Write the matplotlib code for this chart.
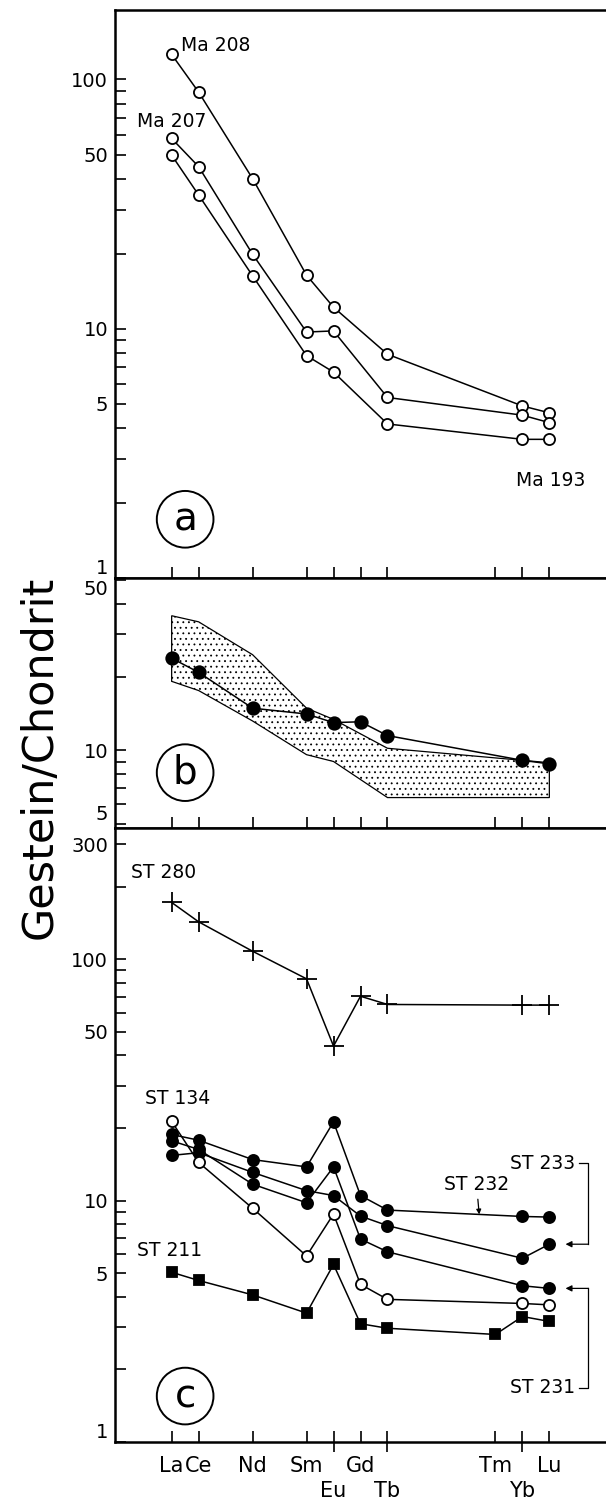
import numpy as np
import matplotlib
matplotlib.use('Agg')
import matplotlib.pyplot as plt
import matplotlib.ticker as mticker

# REE in order of atomic number (x axis is spaced by atomic number)
elements = ['La', 'Ce', 'Nd', 'Sm', 'Eu', 'Gd', 'Tb', 'Tm', 'Yb', 'Lu']
atomic_numbers = [57, 58, 60, 62, 63, 64, 65, 69, 70, 71]
lower_row = ['Eu', 'Tb', 'Yb']   # labels printed on the second line

# Panel a: Ma samples (no Gd, no Tm)
a_elements = ['La', 'Ce', 'Nd', 'Sm', 'Eu', 'Tb', 'Yb', 'Lu']
ma208 = [126, 89, 40, 16.4, 12.2, 7.9, 4.9, 4.6]
ma207 = [58, 44.7, 19.9, 9.7, 9.8, 5.3, 4.5, 4.2]
ma193 = [49.7, 34.4, 16.3, 7.8, 6.7, 4.15, 3.6, 3.6]

# Panel b: mean curve and range band
b_elements = ['La', 'Ce', 'Nd', 'Sm', 'Eu', 'Gd', 'Tb', 'Yb', 'Lu']
b_mean = [23.9, 20.9, 14.9, 14.1, 13.0, 13.1, 11.5, 9.1, 8.8]
band_elements = ['La', 'Ce', 'Nd', 'Sm', 'Eu', 'Tb', 'Yb', 'Lu']
band_upper = [35.7, 33.7, 24.7, 14.9, 13.4, 10.2, 9.1, 8.9]
band_lower = [19.2, 17.6, 13.2, 9.6, 9.0, 6.4, 6.4, 6.4]

# Panel c: ST samples
c_elements = ['La', 'Ce', 'Nd', 'Sm', 'Eu', 'Gd', 'Tb', 'Yb', 'Lu']
st280 = [172, 143, 108, 83, 43.7, 70.3, 65, 64.6, 64.6]
st134 = [21.3, 14.4, 9.3, 5.9, 8.8, 4.5, 3.9, 3.75, 3.7]
st232 = [18.8, 17.8, 14.8, 13.8, 21.2, 10.5, 9.14, 8.6, 8.55]
st233 = [15.4, 15.8, 13.1, 11.0, 10.5, 8.63, 7.88, 5.77, 6.6]
st231 = [17.7, 16.3, 11.7, 9.8, 13.8, 6.93, 6.14, 4.44, 4.33]
st211_elements = elements
st211 = [5.05, 4.67, 4.07, 3.42, 5.44, 3.09, 2.96, 2.79, 3.31, 3.16]


def z(names):
    """Atomic-number positions for a list of element names."""
    return [atomic_numbers[elements.index(n)] for n in names]


def style_panel(ax, ylim, major):
    ax.set_yscale('log')
    ax.set_xlim(54.9, 73.1)
    ax.set_ylim(*ylim)
    ax.spines['right'].set_visible(False)
    for side in ['left', 'top', 'bottom']:
        ax.spines[side].set_linewidth(1.8)
    ax.yaxis.set_major_locator(mticker.FixedLocator(major))
    ax.yaxis.set_major_formatter(mticker.FuncFormatter(lambda v, _: f'{v:g}'))
    ax.yaxis.set_minor_locator(mticker.LogLocator(base=10, subs=np.arange(2, 10), numticks=30))
    ax.yaxis.set_minor_formatter(mticker.NullFormatter())
    ax.tick_params(axis='y', which='both', direction='in', length=8, width=1.2,
                   labelsize=14, pad=5, right=False)
    ax.set_xticks(atomic_numbers)
    ax.tick_params(axis='x', which='major', direction='in', length=8, width=1.2,
                   top=False, labelbottom=False)


def edge_labels(ax, bottom=True, top=False):
    # keep the labels at the panel joins inside their own panel
    ticks = ax.yaxis.get_major_ticks()
    if bottom:
        ticks[0].label1.set_verticalalignment('bottom')
    if top:
        ticks[-1].label1.set_verticalalignment('top')


def panel_letter(ax, x, y, letter):
    ax.text(x, y, letter, fontsize=28, ha='center', va='center',
            bbox=dict(boxstyle='circle,pad=0.24', fc='none', ec='black', lw=1.4))


def series(ax, names, values, marker, filled=True, ms=8):
    ax.plot(z(names), values, color='black', linewidth=1.1, marker=marker,
            markersize=ms, markerfacecolor='black' if filled else 'white',
            markeredgecolor='black', markeredgewidth=1.3, zorder=4 if filled else 5)


def create_plot():
    plt.rcParams.update({
        'font.family': 'DejaVu Sans',
        'font.size': 13,
        'hatch.linewidth': 0.6,
    })

    W, H = 606, 1508
    fig = plt.figure(figsize=(W / 100, H / 100), dpi=100)
    left = 115 / W

    def box(top_px, bottom_px):
        return [left, 1 - bottom_px / H, 1 - left, (bottom_px - top_px) / H]

    ax_a = fig.add_axes(box(10, 578))
    ax_b = fig.add_axes(box(578, 828))
    ax_c = fig.add_axes(box(828, 1442))

    # ---- panel a
    style_panel(ax_a, (1, 190), [1, 5, 10, 50, 100])
    edge_labels(ax_a)
    for vals in (ma208, ma207, ma193):
        series(ax_a, a_elements, vals, 'o', filled=False)
    ax_a.text(57.35, 137, 'Ma 208', fontsize=13.5, ha='left', va='center')
    ax_a.text(55.7, 68, 'Ma 207', fontsize=13.5, ha='left', va='center')
    ax_a.text(69.75, 2.45, 'Ma 193', fontsize=13.5, ha='left', va='center')
    panel_letter(ax_a, 57.5, 1.72, 'a')

    # ---- panel b
    style_panel(ax_b, (4.8, 51), [5, 10, 50])
    edge_labels(ax_b, bottom=True, top=True)
    bx = z(band_elements)
    ax_b.fill(bx + bx[::-1], band_upper + band_lower[::-1], facecolor='white',
              edgecolor='black', hatch='...', linewidth=0.9, zorder=2)
    series(ax_b, b_elements, b_mean, 'o', filled=True, ms=9)
    panel_letter(ax_b, 57.5, 8.1, 'b')

    # ---- panel c
    style_panel(ax_c, (1, 350), [1, 5, 10, 50, 100, 300])
    edge_labels(ax_c)
    ax_c.plot(z(c_elements), st280, color='black', linewidth=1.1, marker='+',
              markersize=14, markeredgewidth=1.3)
    series(ax_c, c_elements, st232, 'o')
    series(ax_c, c_elements, st233, 'o')
    series(ax_c, c_elements, st231, 'o')
    series(ax_c, c_elements, st134, 'o', filled=False)
    series(ax_c, st211_elements, st211, 's', ms=7.5)

    ax_c.text(55.5, 228, 'ST 280', fontsize=13.5, ha='left', va='center')
    ax_c.text(56.0, 26.5, 'ST 134', fontsize=13.5, ha='left', va='center')
    ax_c.text(55.7, 6.2, 'ST 211', fontsize=13.5, ha='left', va='center')

    # ST 232: small arrow onto the Tb-Yb segment
    zc = z(c_elements)
    x_arrow = 68.4
    y_arrow = 10 ** np.interp(x_arrow, zc, np.log10(st232))
    ax_c.annotate('ST 232', xy=(x_arrow, y_arrow), xytext=(68.3, 11.7), fontsize=13.5,
                  ha='center', va='center',
                  arrowprops=dict(arrowstyle='-|>', color='black', lw=0.9,
                                  mutation_scale=7, shrinkA=2, shrinkB=0))

    # brackets for ST 233 and ST 231 pointing to their Lu values
    x_br = 72.45
    for label, vals, y_txt in (('ST 233', st233, 14.3), ('ST 231', st231, 1.68)):
        y_lu = vals[-1]
        ax_c.text(71.95, y_txt, label, fontsize=13.5, ha='right', va='center')
        ax_c.plot([72.1, x_br, x_br], [y_txt, y_txt, y_lu], color='black', linewidth=0.9)
        ax_c.annotate('', xy=(71.6, y_lu), xytext=(x_br, y_lu),
                      arrowprops=dict(arrowstyle='-|>', color='black', lw=0.9,
                                      mutation_scale=9, shrinkA=0, shrinkB=0))
    panel_letter(ax_c, 57.5, 1.55, 'c')

    # x labels on the bottom panel, Eu/Tb/Yb on a second line
    ax_c.set_xticklabels([('\n' + e) if e in lower_row else e for e in elements],
                         linespacing=1.35)
    ax_c.tick_params(axis='x', which='major', labelbottom=True, labelsize=15, pad=10)
    ax_c.xaxis.remove_overlapping_locs = False
    ax_c.xaxis.set_minor_locator(mticker.FixedLocator(z(lower_row)))
    ax_c.tick_params(axis='x', which='minor', direction='out', length=7, width=1.2)

    fig.text(0.066, 1 - 757 / H, 'Gestein/Chondrit', rotation=90, fontsize=31,
             ha='center', va='center')
    return fig


if __name__ == '__main__':
    fig = create_plot()
    fig.savefig('out.png', dpi=100)
